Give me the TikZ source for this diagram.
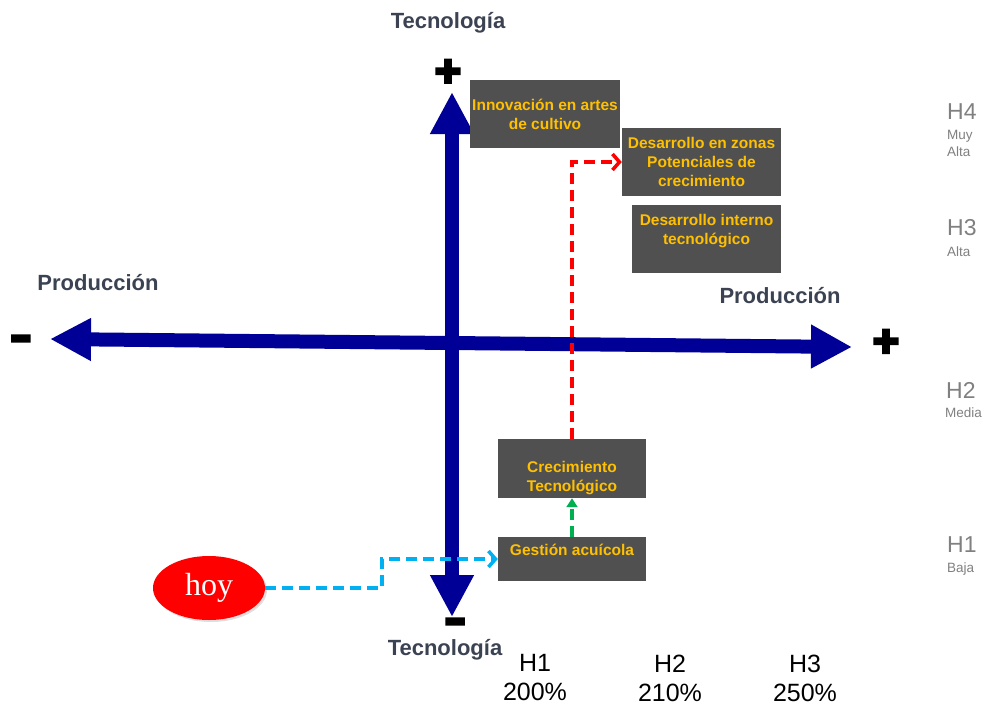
\documentclass[tikz,border=0pt]{standalone}
\usepackage{fontspec}
\setmainfont{Liberation Sans}
\newfontfamily\hoyfont{Liberation Serif}
\newfontfamily\signfont[FakeBold=7]{Liberation Sans Bold}
\newfontfamily\minusfont[FakeBold=20]{Liberation Sans Bold}
\usepackage{tikz}
\usetikzlibrary{arrows.meta, shapes.geometric, shadows, positioning}

\definecolor{axisblue}{RGB}{0,0,150}
\definecolor{boxgray}{RGB}{80,80,80}
\definecolor{boxtext}{RGB}{255,192,0}
\definecolor{axislabel}{RGB}{59,66,82}
\definecolor{levelgray}{RGB}{128,128,128}
\definecolor{flowcyan}{RGB}{0,176,240}
\definecolor{flowgreen}{RGB}{0,176,80}

\tikzset{
  axis/.style={line width=14pt, axisblue},
  box/.style={fill=boxgray, text=boxtext, font=\bfseries\fontsize{15.5}{19}\selectfont,
    align=center, inner xsep=2pt, inner ysep=1pt},
  axlabel/.style={text=axislabel, font=\bfseries\fontsize{22}{26}\selectfont, inner sep=0pt},
  plus/.style={font=\signfont\fontsize{44}{44}\selectfont, text=black, inner sep=0pt},
  minus/.style={font=\minusfont\fontsize{28}{28}\selectfont, text=black, inner sep=0pt, anchor=base},
  level/.style={text=levelgray, font=\fontsize{23}{24}\selectfont, anchor=west, inner sep=0pt},
  levelsub/.style={text=levelgray, font=\fontsize{13.5}{17}\selectfont, anchor=north west,
    align=left, inner sep=0pt},
  horizon/.style={font=\fontsize{25}{29}\selectfont, align=center},
  flow/.style={line width=3.5pt, dash pattern=on 11pt off 6pt}
}

\begin{document}
\begin{tikzpicture}[x=1pt, y=-1pt]
  \useasboundingbox (0,0) rectangle (984,705);

  % ejes
  \coordinate (xl) at (50,339);
  \coordinate (xr) at (852,347);
  \coordinate (yt) at (452,92);
  \coordinate (yb) at (452,617);
  \draw[axis, {Triangle[length=41pt, width=40pt]}-{Triangle[length=41pt, width=41pt]}] (xl) -- (xr);
  \draw[axis, {Triangle[length=42pt, width=41pt]}-{Triangle[length=42pt, width=41pt]}] (yt) -- (yb);

  \node[plus]  (ytplus)  at (448,73)  {+};
  \node[minus] (ybminus) at (455,629) {–};
  \node[minus] (xlminus) at (21,346)  {–};
  \node[plus]  (xrplus)  at (886,343) {+};

  \node[axlabel] (tectop) at (448,23)  {Tecnología};
  \node[axlabel] (tecbot) at (445,650) {Tecnología};
  \node[axlabel] (prodl)  at (98,283)  {Producción};
  \node[axlabel] (prodr)  at (780,296) {Producción};

  % iniciativas
  \node[box, minimum width=148pt, minimum height=68pt] (innov)   at (545,114) {Innovación en artes\\de cultivo};
  \node[box, minimum width=159pt, minimum height=68pt] (zonas)   at (701.5,162) {Desarrollo en zonas\\Potenciales de\\crecimiento};
  \node[box, minimum width=149pt, minimum height=68pt] (interno) at (706.5,239) {Desarrollo interno\\tecnológico\\\mbox{}};
  \node[box, minimum width=148pt, minimum height=59pt] (crec)    at (572,468.5) {\mbox{}\\[12pt]Crecimiento\\Tecnológico};
  \node[box, minimum width=148pt, minimum height=44pt] (gestion) at (572,559) {Gestión acuícola\\\mbox{}};

  \node[ellipse, fill=red, text=white, minimum width=112pt, minimum height=64pt, inner sep=0pt,
        drop shadow={opacity=0.25, shadow xshift=2pt, shadow yshift=-2pt},
        font=\hoyfont\fontsize{32}{34}\selectfont] (hoy) at (209,588) {hoy};

  % caminos
  \coordinate (jog) at (382,572);
  \draw[flow, flowcyan, -{Straight Barb[length=7pt, width=16pt]}] (hoy.east) -| (jog) |- (gestion.west);
  \draw[flow, flowgreen, -{Triangle[length=9pt, width=11pt]}] (gestion.north) -- (crec.south);
  \draw[flow, red, -{Straight Barb[length=7pt, width=16pt]}] (crec.north) |- (zonas.west);

  % horizontes
  \node[level] (h4) at (947,112) {H4};
  \node[levelsub] (h4sub) at (947,130) {Muy\\Alta};
  \node[level] (h3) at (947,228) {H3};
  \node[levelsub] (h3sub) at (947,247) {Alta};
  \node[level] (h2) at (946,390) {H2};
  \node[levelsub] (h2sub) at (945,408) {Media};
  \node[level] (h1) at (947,545) {H1};
  \node[levelsub] (h1sub) at (947,563) {Baja};

  \node[horizon] (hz1) at (535,678) {H1\\200\%};
  \node[horizon] (hz2) at (670,678) {H2\\210\%};
  \node[horizon] (hz3) at (805,678) {H3\\250\%};
\end{tikzpicture}
\end{document}
